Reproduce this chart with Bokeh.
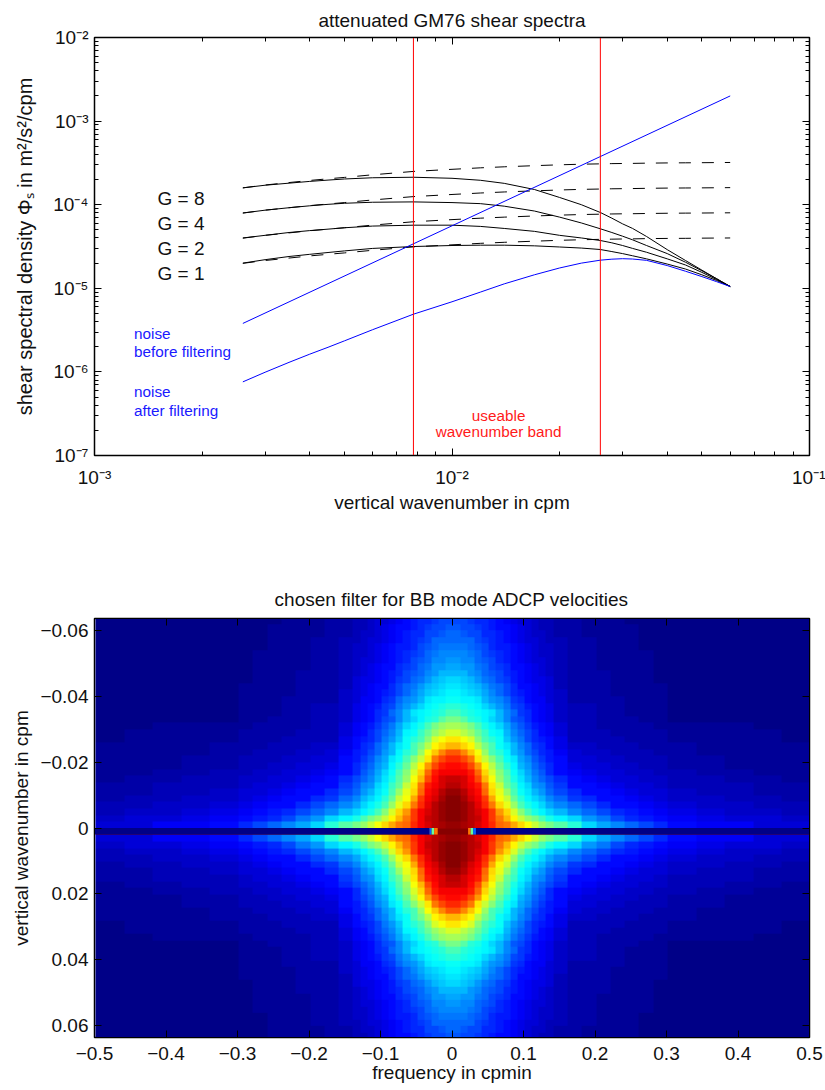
import numpy as np
from bokeh.plotting import figure
from bokeh.layouts import column
from bokeh.embed import file_html
from bokeh.resources import INLINE
from bokeh.models import (LinearAxis, LogAxis, FixedTicker, Range1d, LinearColorMapper,
                          CustomJSTickFormatter)
from bokeh.core.properties import value

FONT = "Liberation Sans"

# ---------- upper panel: spectra
kz = [2.6e-3, 3e-3, 3.5e-3, 4e-3, 4.5e-3, 5e-3, 6e-3, 7.8e-3, 1e-2, 1.2e-2, 1.4e-2, 1.7e-2, 2e-2, 2.3e-2,
      2.6e-2, 2.8e-2, 3e-2, 3.2e-2, 3.5e-2, 4e-2, 4.5e-2, 5e-2, 5.5e-2, 6e-2]
g8_solid = [1.59e-4, 1.71e-4, 1.81e-4, 1.90e-4, 1.97e-4, 2.03e-4, 2.10e-4, 2.13e-4, 2.07e-4, 1.96e-4, 1.80e-4, 1.52e-4,
            1.22e-4, 1.0e-4, 8.07e-5, 6.9e-5, 5.9e-5, 5.2e-5, 4.17e-5, 2.9e-5, 2.15e-5, 1.65e-5, 1.3e-5, 1.05e-5]
g4_solid = [7.95e-5, 8.6e-5, 9.2e-5, 9.7e-5, 1.01e-4, 1.04e-4, 1.07e-4, 1.08e-4, 1.06e-4, 1.03e-4, 9.6e-5, 8.4e-5,
            7.1e-5, 6.05e-5, 5.15e-5, 4.65e-5, 4.2e-5, 3.8e-5, 3.25e-5, 2.6e-5, 2.05e-5, 1.62e-5, 1.3e-5, 1.05e-5]
g2_solid = [4.0e-5, 4.3e-5, 4.65e-5, 4.9e-5, 5.1e-5, 5.3e-5, 5.55e-5, 5.69e-5, 5.69e-5, 5.5e-5, 5.2e-5, 4.8e-5,
            4.3e-5, 4.0e-5, 3.73e-5, 3.5e-5, 3.25e-5, 3.0e-5, 2.7e-5, 2.25e-5, 1.9e-5, 1.55e-5, 1.27e-5, 1.05e-5]
g1_solid = [2.0e-5, 2.2e-5, 2.4e-5, 2.55e-5, 2.68e-5, 2.8e-5, 3.0e-5, 3.16e-5, 3.25e-5, 3.28e-5, 3.28e-5, 3.22e-5,
            3.12e-5, 3.03e-5, 2.91e-5, 2.75e-5, 2.6e-5, 2.45e-5, 2.25e-5, 1.95e-5, 1.7e-5, 1.45e-5, 1.24e-5, 1.05e-5]
g8_dash = [1.59e-4, 1.72e-4, 1.84e-4, 1.95e-4, 2.04e-4, 2.12e-4, 2.28e-4, 2.5e-4, 2.65e-4, 2.76e-4, 2.84e-4, 2.93e-4,
           3.0e-4, 3.05e-4, 3.08e-4, 3.1e-4, 3.11e-4, 3.12e-4, 3.14e-4, 3.16e-4, 3.17e-4, 3.18e-4, 3.19e-4, 3.2e-4]
g4_dash = [7.95e-5, 8.6e-5, 9.2e-5, 9.75e-5, 1.02e-4, 1.06e-4, 1.14e-4, 1.25e-4, 1.325e-4, 1.38e-4, 1.42e-4, 1.465e-4,
           1.5e-4, 1.525e-4, 1.54e-4, 1.55e-4, 1.555e-4, 1.56e-4, 1.57e-4, 1.58e-4, 1.585e-4, 1.59e-4, 1.595e-4, 1.6e-4]
g2_dash = [3.98e-5, 4.3e-5, 4.6e-5, 4.88e-5, 5.1e-5, 5.3e-5, 5.7e-5, 6.25e-5, 6.63e-5, 6.9e-5, 7.1e-5, 7.33e-5,
           7.5e-5, 7.63e-5, 7.7e-5, 7.75e-5, 7.78e-5, 7.8e-5, 7.85e-5, 7.9e-5, 7.93e-5, 7.95e-5, 7.98e-5, 8.0e-5]
g1_dash = [1.99e-5, 2.15e-5, 2.3e-5, 2.44e-5, 2.55e-5, 2.65e-5, 2.85e-5, 3.13e-5, 3.31e-5, 3.45e-5, 3.55e-5, 3.66e-5,
           3.75e-5, 3.81e-5, 3.85e-5, 3.87e-5, 3.89e-5, 3.9e-5, 3.93e-5, 3.95e-5, 3.96e-5, 3.98e-5, 3.99e-5, 4.0e-5]
noise_after = [7.6e-7, 9.9e-7, 1.3e-6, 1.63e-6, 1.97e-6, 2.35e-6, 3.2e-6, 4.9e-6, 6.9e-6, 9.0e-6, 1.13e-5, 1.45e-5,
               1.75e-5, 2.0e-5, 2.17e-5, 2.23e-5, 2.26e-5, 2.24e-5, 2.16e-5, 1.87e-5, 1.6e-5, 1.38e-5, 1.2e-5, 1.05e-5]
noise_before_k = [2.6e-3, 6e-2]
noise_before = [3.8e-6, 2.0e-3]
band_edges = [7.8e-3, 2.6e-2]
band_y = [1e-7, 1e-2]

x_major = [1e-3, 1e-2, 1e-1]
x_minor = [2e-3, 3e-3, 4e-3, 5e-3, 6e-3, 7e-3, 8e-3, 9e-3, 2e-2, 3e-2, 4e-2, 5e-2, 6e-2, 7e-2, 8e-2, 9e-2]
y_major = [1e-7, 1e-6, 1e-5, 1e-4, 1e-3, 1e-2]
y_minor = [m * d for d in (1e-7, 1e-6, 1e-5, 1e-4, 1e-3) for m in (2, 3, 4, 5, 6, 7, 8, 9)]

g_labels = ["G = 8", "G = 4", "G = 2", "G = 1"]
g_label_x = [1.5e-3] * 4
g_label_y = [1.19e-4, 6e-5, 3e-5, 1.5e-5]
noise_labels = ["noise", "before filtering", "noise", "after filtering"]
noise_label_x = [1.29e-3] * 4
noise_label_y = [2.88e-6, 1.75e-6, 5.8e-7, 3.45e-7]
band_labels = ["useable", "wavenumber band"]
band_label_x = [1.35e-2] * 2
band_label_y = [3e-7, 1.94e-7]

# ---------- lower panel: filter response in percent, one quadrant.
# Rows go outward from wavenumber 0 in steps of 0.002 cpm; column widths are given in source cells
# of 0.005 cpmin (narrow near frequency 0, wider where the field is nearly flat).
freq_ticks = [-.5, -.4, -.3, -.2, -.1, 0, .1, .2, .3, .4, .5]
wave_ticks = [-.06, -.04, -.02, 0, .02, .04, .06]
column_cells = [2] * 14 + [4] * 8 + [8] * 5
filter_rows = [
 [97, 96, 94, 92, 89, 84, 78, 75, 71, 66, 62, 57, 53, 49, 46, 41, 34, 29, 25, 22, 19, 16, 14, 12, 11, 9, 8],
 [99, 97, 95, 93, 88, 82, 75, 69, 63, 57, 53, 49, 45, 40, 37, 33, 28, 24, 20, 17, 15, 13.5, 11.5, 10, 9, 8, 7],
 [100, 98, 95, 92, 88, 82, 73, 66, 58, 50, 44, 40, 37, 34, 30, 26, 22, 19, 16.5, 14.5, 12.5, 11, 9.5, 8.5, 7.5, 6.5, 5.5],
 [100, 98, 94, 90, 84, 75, 66, 60, 53, 44, 40, 36, 33, 29, 26, 22, 19, 16.5, 14, 12.5, 11, 10, 8.5, 7.5, 6.5, 5.5, 5],
 [99, 96, 92, 88, 82, 71, 62, 57, 48, 42, 37, 33, 30, 25, 22, 18, 16, 14, 12.5, 11, 10, 9, 7.5, 6.5, 5.5, 5, 4.5],
 [97, 94, 90, 86, 78, 67, 60, 52, 45, 38, 35, 31, 27, 23, 20, 16, 14, 12.5, 11, 10, 9, 8, 7, 6, 5, 4.5, 4],
 [95, 92, 89, 85, 75, 65, 57, 48, 43, 37, 33, 28, 25, 21, 18, 14, 12.5, 11, 10, 9, 8, 7, 6, 5.5, 5, 4, 3.5],
 [93, 91, 87, 80, 70, 62, 53, 46, 40, 35, 31, 26, 23, 19, 16, 12.5, 11, 10, 9, 8, 7, 6.5, 5.5, 5, 4, 3.5, 3],
 [89, 88, 85, 77, 67, 58, 50, 44, 39, 34, 29, 24, 21, 17, 14, 11, 10, 9, 8, 7, 6.5, 5.5, 5, 4, 3.5, 3, 3],
 [87, 85, 81, 73, 63, 55, 48, 42, 37, 31, 27, 23, 20, 16, 13, 10, 9, 8, 7, 6.5, 6, 5, 4.5, 4, 3, 3, 2.5],
 [84, 81, 75, 65, 57, 50, 44, 39, 35, 29, 25, 21, 18, 15.5, 12.5, 9, 8, 7, 6.5, 6, 5.5, 5, 4, 3.5, 3, 2.5, 2.5],
 [79, 74, 68, 61, 52, 45, 41, 37, 31, 27, 23, 19, 17, 14.5, 11.5, 8, 7, 6.5, 6, 5.5, 5, 4.5, 4, 3, 3, 2.5, 2],
 [70, 67, 63, 56, 49, 44, 39, 35, 30, 26, 22, 18, 16, 13.5, 10.5, 7, 6.5, 6, 5.5, 5, 4.5, 4, 3.5, 3, 2.5, 2, 2],
 [65, 62, 58, 50, 45, 42, 38, 32, 27, 24, 20, 17, 15, 12.5, 9.5, 6, 6, 5.5, 5, 4.5, 4, 3.5, 3, 2.5, 2, 2, 1.5],
 [59, 55, 52, 48, 43, 39, 36, 31, 26, 23, 19, 16, 14, 11.5, 8.5, 5, 5, 5, 4.5, 4, 4, 3.5, 3, 2.5, 2, 2, 1.5],
 [54, 52, 49, 44, 40, 37, 34, 29, 24, 21, 18, 15, 13, 11, 8, 5, 5, 4.5, 4, 4, 3.5, 3, 2.5, 2, 2, 1.5, 1.5],
 [49, 46, 42, 40, 37, 34, 30, 25, 21, 19, 16, 13, 12, 10, 7.5, 5.5, 5, 4.5, 4, 3.5, 3, 2.5, 1.5, 1.5, 1, 1, 1],
 [44, 42, 40, 38, 37, 35, 30, 25, 22, 18, 16, 13, 12, 10, 7.5, 5, 5, 4, 4, 3, 3, 2.5, 1.5, 1.5, 1, 1, 1],
 [41, 40, 38, 36, 33, 31, 28, 24, 20, 18, 15, 13, 12, 10, 7, 5, 5, 4, 3.5, 3, 2.5, 2, 1.5, 1, 1, 1, 1],
 [38, 37, 36, 35, 31, 28, 25, 22, 18, 16, 14, 12, 11, 9, 7, 4.5, 4, 4, 3.5, 3, 2.5, 2, 1.5, 1, 1, 1, 1],
 [36, 35, 34, 32, 29, 26, 23, 20, 17, 15, 13, 11.5, 10, 8.5, 6.5, 4.5, 4, 3.5, 3, 2.5, 2, 2, 1.5, 1, 1, 1, 1],
 [35, 34, 32, 30, 27, 24, 22, 19, 16, 14, 12.5, 11, 10, 8, 6, 4.5, 4, 3.5, 3, 2.5, 2, 2, 1, 1, 1, 1, 1],
 [33, 32, 30, 27, 24, 22, 20, 18, 15.5, 13.5, 12, 10.5, 9.5, 8, 6, 4.5, 4, 3.5, 3, 2.5, 2, 1.5, 1, 1, 1, 1, 1],
 [31, 30, 28, 25, 23, 21, 19, 17, 15, 13, 11.5, 10, 9, 7.5, 5.5, 4.5, 4, 3.5, 3, 2.5, 2, 1.5, 1, 1, 1, 1, 1],
 [29, 28, 27, 24, 22, 20, 18, 16, 14, 12.5, 11, 9.5, 8.5, 7, 5.5, 4.5, 4, 3, 3, 2.5, 2, 1.5, 1, 1, 1, 1, 1],
 [27, 26, 25, 23, 21, 19, 17, 15.5, 13.5, 12, 10.5, 9, 8, 7, 5, 4, 3.5, 3, 2.5, 2.5, 2, 1.5, 1, 1, 1, 1, 1],
 [26, 25, 24, 22, 20, 18, 16, 15, 13, 11.5, 10, 8.5, 7.5, 6.5, 5, 4, 3.5, 3, 2.5, 2, 2, 1.5, 1, 1, 1, 1, 1],
 [24, 24, 23, 21, 19, 17, 15.5, 14.5, 12.5, 11, 9.5, 8, 7.5, 6.5, 5, 4, 3.5, 3, 2.5, 2, 1.5, 1.5, 1, 1, 1, 1, 1],
 [23, 23, 22, 20, 18, 16, 15, 14, 12, 10.5, 9, 8, 7, 6, 5, 4, 3.5, 2.5, 2.5, 2, 1.5, 1.5, 1, 1, 1, 1, 1],
 [22, 21, 20, 19, 17, 16, 14.5, 13, 11.5, 10, 9, 7.5, 6.5, 6, 4.5, 4, 3, 2.5, 2.5, 2, 1.5, 1, 1, 1, 1, 1, 1],
 [21, 20, 19, 18, 16, 15, 14, 12.5, 11, 9.5, 8.5, 7, 6, 5.5, 4.5, 4, 3, 2.5, 2, 2, 1.5, 1, 1, 1, 1, 1, 1],
 [20, 19, 18, 17, 16, 14.5, 13.5, 12, 10.5, 9, 8, 7, 6, 5, 4.5, 3.5, 3, 2.5, 2, 1.5, 1.5, 1, 1, 1, 1, 1, 1],
]
# the row at wavenumber zero: dark except for three cells each side of the centre
zero_row_left = [-.5, -.0315, -.0285, -.025, .0225, .026, .0295, .0335]
zero_row_right = [-.0315, -.0285, -.025, -.02, .026, .0295, .0335, .5]
zero_row_value = [0, .22, .47, .76, .76, .47, .22, 0]
zero_row_top = [0.0] * 8
zero_row_bottom = [0.002] * 8

# ---------- jet colormap, 64 steps
def jet(v):
    r = np.clip(min(4 * v - 1.5, -4 * v + 4.5), 0, 1)
    g = np.clip(min(4 * v - 0.5, -4 * v + 3.5), 0, 1)
    b = np.clip(min(4 * v + 0.5, -4 * v + 2.5), 0, 1)
    return "#%02x%02x%02x" % (int(r * 255), int(g * 255), int(b * 255))

palette = [jet((i + 0.5) / 64) for i in range(64)]
mapper = LinearColorMapper(palette=palette, low=0, high=1)

LOG_FMT = CustomJSTickFormatter(code="""
const sup = {'-':'\\u207b','1':'\\u00b9','2':'\\u00b2','3':'\\u00b3','4':'\\u2074','5':'\\u2075','6':'\\u2076','7':'\\u2077'};
const e = String(Math.round(Math.log10(tick)));
return '10' + e.split('').map(c => sup[c]).join('');
""")
BLANK = CustomJSTickFormatter(code="return '';")


def style_common(p, standoff):
    p.outline_line_color = "black"
    p.outline_line_width = 1.5
    p.grid.visible = False
    p.title.align = "center"
    p.title.text_font = FONT
    p.title.text_font_size = "19px"
    p.title.text_font_style = "normal"
    p.title.text_color = "#111111"
    p.title.standoff = standoff


def style_axis(axis, minor=4):
    axis.major_tick_in, axis.major_tick_out = 7, 0
    axis.minor_tick_in, axis.minor_tick_out = minor, 0
    axis.major_label_text_font = FONT
    axis.major_label_text_font_size = "19px"
    axis.major_label_text_color = "#111111"
    axis.major_label_standoff = 6
    axis.axis_label_text_font = FONT
    axis.axis_label_text_font_size = "19px"
    axis.axis_label_text_font_style = "normal"
    axis.axis_label_text_color = "#111111"


# ---------- upper figure
p1 = figure(width=825, height=560, frame_width=715, frame_height=418,
            min_border_left=94, min_border_right=16, min_border_top=37, min_border_bottom=105,
            x_axis_type="log", y_axis_type="log",
            x_range=Range1d(1e-3, 1e-1), y_range=Range1d(1e-7, 1e-2),
            title="attenuated GM76 shear spectra",
            output_backend="svg", toolbar_location=None)
style_common(p1, 14)
for axis, major, minor in ((p1.xaxis[0], x_major, x_minor), (p1.yaxis[0], y_major, y_minor)):
    axis.ticker = FixedTicker(ticks=major, minor_ticks=minor)
    axis.formatter = LOG_FMT
    style_axis(axis)
p1.xaxis[0].axis_label = "vertical wavenumber in cpm"
p1.xaxis[0].major_label_standoff = 11
p1.xaxis[0].axis_label_standoff = 1
p1.yaxis[0].axis_label = "shear spectral density \u03a6\u209b in m\u00b2/s\u00b2/cpm"
p1.yaxis[0].axis_label_text_font_size = "20px"
p1.yaxis[0].axis_label_standoff = 14

top_ax = LogAxis(ticker=FixedTicker(ticks=x_major, minor_ticks=x_minor), formatter=BLANK,
                 major_label_text_font_size="1px",
                 major_tick_in=7, major_tick_out=0, minor_tick_in=4, minor_tick_out=0, major_label_standoff=0)
right_ax = LogAxis(ticker=FixedTicker(ticks=y_major, minor_ticks=y_minor), formatter=BLANK,
                   major_label_text_font_size="1px",
                   major_tick_in=7, major_tick_out=0, minor_tick_in=4, minor_tick_out=0, major_label_standoff=0)
p1.add_layout(top_ax, "above")
p1.add_layout(right_ax, "right")

for ys in (g8_dash, g4_dash, g2_dash, g1_dash):
    p1.line(kz, ys, line_color="black", line_width=1, line_dash="12 11")
for ys in (g8_solid, g4_solid, g2_solid, g1_solid):
    p1.line(kz, ys, line_color="black", line_width=1)
p1.line(kz, noise_after, line_color="#0000ff", line_width=1)
p1.line(noise_before_k, noise_before, line_color="#0000ff", line_width=1)
for edge in band_edges:
    p1.line([edge, edge], band_y, line_color="#ff0000", line_width=1)

p1.text(g_label_x, g_label_y, text=g_labels, text_font=value(FONT), text_font_size="19px",
        text_baseline="middle", text_color="#111111")
p1.text(noise_label_x, noise_label_y, text=noise_labels, text_font=value(FONT), text_font_size="15.3px",
        text_baseline="middle", text_color="#1a1aff")
p1.text(band_label_x, band_label_y, text=band_labels, text_font=value(FONT), text_font_size="15.3px",
        text_baseline="middle", text_align="center", text_color="#ff1a1a")

# ---------- lower figure
p2 = figure(width=825, height=522, frame_width=715, frame_height=419,
            min_border_left=94, min_border_right=16, min_border_top=58, min_border_bottom=45,
            x_range=Range1d(-0.5, 0.5), y_range=Range1d(0.0636, -0.0636),
            title="chosen filter for BB mode ADCP velocities",
            output_backend="svg", toolbar_location=None)
style_common(p2, 17)

quadrant = np.repeat(np.array(filter_rows, dtype=float) / 100.0, column_cells, axis=1)
half = np.hstack([quadrant[:, ::-1], quadrant])        # mirrored across frequency 0
centre_row = np.ones((1, half.shape[1]))               # under the zero row: the centre stays at the top colour
field = np.vstack([half[::-1, :], centre_row, half[:-1, :]])   # 32 rows above the zero row, 31 below
p2.image(image=[field], x=-0.4986, y=-0.064, dw=1.0, dh=0.128, color_mapper=mapper)
p2.quad(left=zero_row_left, right=zero_row_right, top=zero_row_top, bottom=zero_row_bottom,
        fill_color=[palette[min(63, int(v * 64))] for v in zero_row_value], line_color=None)

x2, y2 = p2.xaxis[0], p2.yaxis[0]
x2.ticker = FixedTicker(ticks=freq_ticks)
y2.ticker = FixedTicker(ticks=wave_ticks)
x2.formatter = CustomJSTickFormatter(code="return Math.abs(tick)<1e-9 ? '0' : tick.toFixed(1).replace('-', '\\u2212');")
y2.formatter = CustomJSTickFormatter(code="return Math.abs(tick)<1e-9 ? '0' : tick.toFixed(2).replace('-', '\\u2212');")
x2.axis_label = "frequency in cpmin"
y2.axis_label = "vertical wavenumber in cpm"
style_axis(x2, 0)
style_axis(y2, 0)
x2.major_label_standoff = 9
x2.axis_label_standoff = -1

top2 = LinearAxis(ticker=FixedTicker(ticks=freq_ticks), formatter=BLANK, major_label_text_font_size="1px",
                  major_tick_in=7, major_tick_out=0, minor_tick_in=0, minor_tick_out=0, major_label_standoff=0)
right2 = LinearAxis(ticker=FixedTicker(ticks=wave_ticks), formatter=BLANK, major_label_text_font_size="1px",
                    major_tick_in=7, major_tick_out=0, minor_tick_in=0, minor_tick_out=0, major_label_standoff=0)
p2.add_layout(top2, "above")
p2.add_layout(right2, "right")

page = column(p1, p2, spacing=0)
open("out.html", "w").write(file_html(page, INLINE))
